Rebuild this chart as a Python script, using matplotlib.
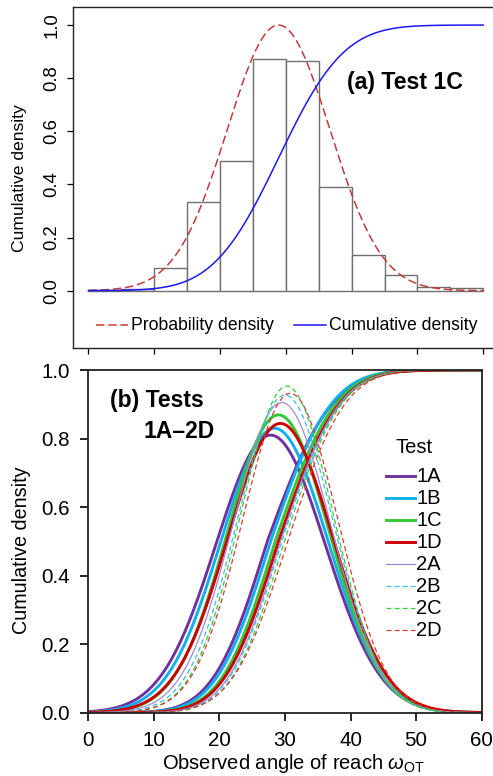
import math
import numpy as np
import matplotlib
matplotlib.use("Agg")
import matplotlib.pyplot as plt

plt.rcParams['font.family'] = ['Liberation Sans', 'DejaVu Sans']
plt.rcParams['mathtext.fontset'] = 'custom'
plt.rcParams['mathtext.rm'] = 'Liberation Sans'
plt.rcParams['mathtext.it'] = 'Liberation Sans:italic'

# ---- panel (a): test 1C histogram with fitted normal ----
bin_edges = [0, 5, 10, 15, 20, 25, 30, 35, 40, 45, 50, 55, 60]
bin_heights = [0.001, 0.006, 0.084, 0.333, 0.490, 0.871, 0.866, 0.389, 0.133, 0.058, 0.015, 0.009]
fit_mean_1c = 28.9
fit_sd_1c = 7.8

# ---- panel (b): fitted curves for every test ----
tests = ['1A', '1B', '1C', '1D', '2A', '2B', '2C', '2D']
pdf_mode = [27.8, 28.4, 29.0, 29.3, 29.5, 30.0, 30.3, 30.8]
pdf_peak = [0.810, 0.830, 0.869, 0.844, 0.905, 0.927, 0.953, 0.932]
pdf_sd = [8.33, 8.13, 7.77, 8.00, 7.46, 7.28, 7.08, 7.24]
cdf_median = [27.3, 27.8, 28.5, 29.0, 29.3, 29.5, 29.9, 30.4]
cdf_sd_low = [6.5, 6.5, 6.4, 6.5, 6.3, 6.3, 6.3, 6.6]
cdf_sd_high = [7.7, 7.2, 7.2, 7.2, 7.0, 7.0, 6.8, 6.8]
colors = ['#7030A0', '#10B0F0', '#33C833', '#CC0000', '#A488D4', '#33C0F0', '#33D033', '#D83A3A']
widths = [2.1, 2.1, 2.1, 2.1, 0.9, 0.9, 0.9, 0.9]
styles = ['-', '-', '-', '-', '-', '--', '--', '--']

erf = np.vectorize(math.erf)


def norm_cdf(x, mu, sd):
    return 0.5 * (1 + erf((x - mu) / (sd * math.sqrt(2))))


def split_cdf(x, mu, sd_lo, sd_hi):
    return np.where(x < mu, norm_cdf(x, mu, sd_lo), norm_cdf(x, mu, sd_hi))


def scaled_pdf(x, mu, sd, peak):
    return peak * np.exp(-0.5 * ((x - mu) / sd) ** 2)


x = np.linspace(0, 60, 601)
W, H = 493, 776
fig = plt.figure(figsize=(W / 100, H / 100), dpi=100)

# top panel
ax1 = fig.add_axes([72.7 / W, 1 - 348 / H, (499 - 72.7) / W, (348 - 7) / H])
ax1.bar(bin_edges[:-1], bin_heights, width=5, align='edge', facecolor='white',
        edgecolor='#707070', linewidth=1.0, zorder=1)
ax1.plot(x, scaled_pdf(x, fit_mean_1c, fit_sd_1c, 1.0), color='#C23B3B', lw=1.1,
         dashes=(5.5, 2.5), zorder=2)
ax1.plot(x, norm_cdf(x, fit_mean_1c, fit_sd_1c), color='#1A1AF0', lw=1.1, zorder=3)
ax1.set_xlim(-2.4, 62.4)
ax1.set_ylim(-0.216, 1.068)
ax1.set_xticks(range(0, 61, 10))
ax1.set_xticklabels([])
ax1.set_yticks(np.arange(0, 1.01, 0.2))
ax1.set_yticklabels(['%.1f' % v for v in np.arange(0, 1.01, 0.2)], rotation=90,
                    va='center', fontsize=13.3)
ax1.tick_params(axis='both', direction='out', length=4, width=0.9, pad=5)
for s in ax1.spines.values():
    s.set_linewidth(1.0)
    s.set_color('#222222')
fig.text(19.7 / W, 1 - 178 / H, 'Cumulative density', rotation=90, ha='center',
         va='center', fontsize=12.6)
ax1.text(0.643, 0.78, '(a) Test 1C', transform=ax1.transAxes, fontsize=16.7,
         fontweight='bold', va='center', ha='left')
# legend of panel (a)
ax1.plot([1.2, 6.0], [-0.13, -0.13], color='#C23B3B', lw=1.1, dashes=(5.5, 2.5))
ax1.text(6.5, -0.13, 'Probability density', fontsize=12.7, va='center')
ax1.plot([31.2, 36.1], [-0.13, -0.13], color='#1A1AF0', lw=1.1)
ax1.text(36.6, -0.13, 'Cumulative density', fontsize=12.7, va='center')

# bottom panel
ax2 = fig.add_axes([88.3 / W, 1 - 712.7 / H, (481.7 - 88.3) / W, (712.7 - 370) / H])
for i in range(len(tests)):
    kw = dict(color=colors[i], lw=widths[i], linestyle=styles[i])
    if styles[i] == '--':
        kw['dashes'] = (4, 2.5)
    ax2.plot(x, scaled_pdf(x, pdf_mode[i], pdf_sd[i], pdf_peak[i]), **kw)
    ax2.plot(x, split_cdf(x, cdf_median[i], cdf_sd_low[i], cdf_sd_high[i]), **kw)
ax2.set_xlim(0, 60)
ax2.set_ylim(0, 1)
ax2.set_xticks(range(0, 61, 10))
ax2.set_yticks(np.arange(0, 1.01, 0.2))
ax2.set_yticklabels(['%.1f' % v for v in np.arange(0, 1.01, 0.2)])
ax2.tick_params(axis='both', direction='out', length=5.5, width=1.2, pad=7.5,
                labelsize=14.8)
for s in ax2.spines.values():
    s.set_linewidth(1.3)
    s.set_color('#222222')
fig.text(21.7 / W, 1 - 550 / H, 'Cumulative density', rotation=90, ha='center',
         va='center', fontsize=14.2)
fig.text(293 / W, 1 - 769 / H, 'Observed angle of reach $\\omega_{\\mathrm{OT}}$',
         ha='center', va='baseline', fontsize=14.5)
ax2.text(0.056, 0.91, '(b) Tests', transform=ax2.transAxes, fontsize=16.5,
         fontweight='bold', va='center', ha='left')
ax2.text(0.140, 0.822, '1A\u20132D', transform=ax2.transAxes, fontsize=16.5,
         fontweight='bold', va='center', ha='left')

# legend of panel (b)
ax2.text(0.781, 0.775, 'Test', transform=ax2.transAxes, fontsize=14.5, va='center')
for i, name in enumerate(tests):
    yy = 0.69 - i * 0.0642
    kw = dict(color=colors[i], lw=widths[i], linestyle=styles[i])
    if styles[i] == '--':
        kw['dashes'] = (4, 2.5)
    ax2.plot([0.757, 0.830], [yy, yy], transform=ax2.transAxes, **kw)
    ax2.text(0.834, yy, name, transform=ax2.transAxes, fontsize=14.5, va='center')

fig.savefig('out.png', dpi=100)
